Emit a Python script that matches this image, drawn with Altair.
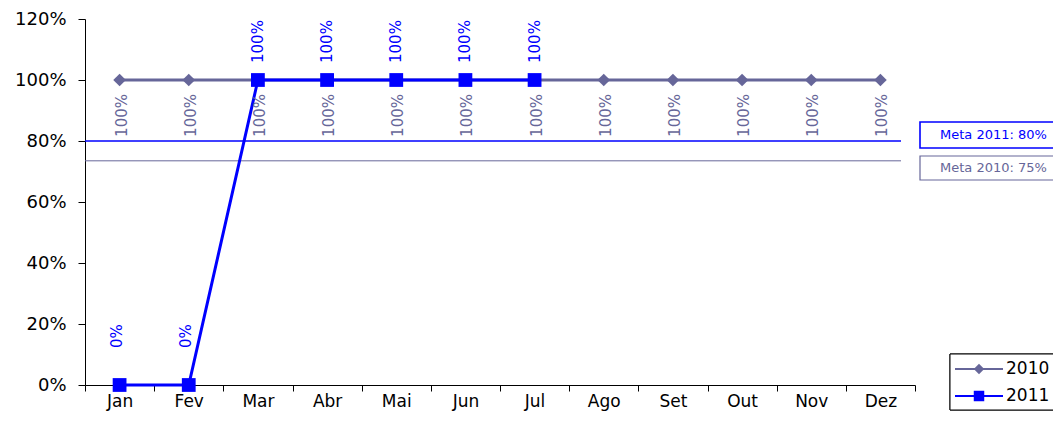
import altair as alt
import pandas as pd

# ---- data -------------------------------------------------------------
months = ["Jan", "Fev", "Mar", "Abr", "Mai", "Jun", "Jul", "Ago", "Set", "Out", "Nov", "Dez"]
series_names = ["2010", "2011"]
values_2010 = [1.00, 1.00, 1.00, 1.00, 1.00, 1.00, 1.00, 1.00, 1.00, 1.00, 1.00, 1.00]
values_2011 = [0.00, 0.00, 1.00, 1.00, 1.00, 1.00, 1.00]
meta_values = [0.80, 0.735]
meta_labels = ["Meta 2011: 80%", "Meta 2010: 75%"]
y_ticks = [0.0, 0.2, 0.4, 0.6, 0.8, 1.0, 1.2]

C2010 = "#666699"
C2011 = "#0000FF"
FONT = "DejaVu Sans"

df2010 = pd.DataFrame({"mes": months, "valor": values_2010})
df2011 = pd.DataFrame({"mes": months[:len(values_2011)], "valor": values_2011})

x_enc = alt.X(
    "mes:N",
    sort=months,
    scale=alt.Scale(type="band", domain=months, paddingInner=0, paddingOuter=0),
    axis=alt.Axis(
        title=None, labelAngle=0, tickBand="extent", tickSize=6, labelPadding=2,
        labelFontSize=17, labelColor="#000000", domainColor="#000000",
        tickColor="#000000", grid=False,
    ),
)
y_enc = alt.Y(
    "valor:Q",
    scale=alt.Scale(domain=[0, 1.2], nice=False),
    axis=alt.Axis(
        title=None, values=y_ticks, format=".0%", tickSize=7, labelPadding=12,
        labelFontSize=18, labelColor="#000000", domainColor="#000000",
        tickColor="#000000", grid=False,
    ),
)

base10 = alt.Chart(df2010).encode(x=x_enc, y=y_enc)
base11 = alt.Chart(df2011).encode(x=x_enc, y=y_enc)

line10 = base10.mark_line(color=C2010, strokeWidth=3)
pts10 = base10.mark_point(shape="diamond", filled=True, size=160, color=C2010, opacity=1)
lab10 = base10.mark_text(
    angle=270, align="right", baseline="middle", fontSize=15, color=C2010,
    yOffset=14, xOffset=2,
).encode(text=alt.Text("valor:Q", format=".0%"))

line11 = base11.mark_line(color=C2011, strokeWidth=3)
pts11 = base11.mark_point(shape="square", filled=True, size=190, color=C2011, opacity=1)
lab11_hi = base11.transform_filter("datum.valor > 0").mark_text(
    angle=270, align="left", baseline="middle", fontSize=15, color=C2011, yOffset=-17,
).encode(text=alt.Text("valor:Q", format=".0%"))
lab11_lo = base11.transform_filter("datum.valor <= 0").mark_text(
    angle=270, align="left", baseline="middle", fontSize=15, color=C2011,
    yOffset=-37, xOffset=-3,
).encode(text=alt.Text("valor:Q", format=".0%"))

# ---- goal lines ----------------------------------------------------------
meta11 = alt.Chart(pd.DataFrame({"valor": [meta_values[0]]})).mark_rule(
    color=C2011, strokeWidth=1.3
).encode(y=alt.Y("valor:Q"), x=alt.value(0), x2=alt.value(816))
meta10 = alt.Chart(pd.DataFrame({"valor": [meta_values[1]]})).mark_rule(
    color=C2010, strokeWidth=1
).encode(y=alt.Y("valor:Q"), x=alt.value(0), x2=alt.value(816))

# ---- goal boxes (annotations) ------------------------------------------
box11 = alt.Chart(pd.DataFrame({"t": [meta_labels[0]]})).mark_rect(
    fill="white", stroke=C2011, strokeWidth=1.6
).encode(x=alt.value(835), x2=alt.value(1000), y=alt.value(103), y2=alt.value(129))
txt11 = alt.Chart(pd.DataFrame({"t": [meta_labels[0]]})).mark_text(
    align="left", baseline="middle", fontSize=13, color=C2011
).encode(text="t:N", x=alt.value(855), y=alt.value(116))
box10 = alt.Chart(pd.DataFrame({"t": [meta_labels[1]]})).mark_rect(
    fill="white", stroke=C2010, strokeWidth=1.2
).encode(x=alt.value(835), x2=alt.value(1000), y=alt.value(137), y2=alt.value(161))
txt10 = alt.Chart(pd.DataFrame({"t": [meta_labels[1]]})).mark_text(
    align="left", baseline="middle", fontSize=13, color=C2010
).encode(text="t:N", x=alt.value(855), y=alt.value(149))

# ---- legend (drawn) -----------------------------------------------------
leg_box = alt.Chart(pd.DataFrame({"t": series_names})).mark_rect(
    fill="white", stroke="#000000", strokeWidth=1
).encode(x=alt.value(865), x2=alt.value(1000), y=alt.value(335), y2=alt.value(391))


def legend_entry(name, color, shape, ypix, lw):
    d = pd.DataFrame({"t": [name]})
    r = alt.Chart(d).mark_rule(color=color, strokeWidth=lw).encode(
        x=alt.value(870), x2=alt.value(918), y=alt.value(ypix))
    p = alt.Chart(d).mark_point(shape=shape, filled=True, size=110, color=color, opacity=1).encode(
        x=alt.value(894), y=alt.value(ypix))
    t = alt.Chart(d).mark_text(align="left", baseline="middle", fontSize=17, color="#000000").encode(
        text="t:N", x=alt.value(921), y=alt.value(ypix))
    return [r, p, t]


leg_layers = legend_entry(series_names[0], C2010, "diamond", 350, 2) + \
    legend_entry(series_names[1], C2011, "square", 377, 2)

chart = alt.layer(
    meta11, meta10, line10, line11, pts10, pts11, lab10, lab11_hi, lab11_lo,
    box11, txt11, box10, txt10, leg_box, *leg_layers,
).properties(
    width=830, height=366,
    padding={"left": 77, "top": 11, "right": 138, "bottom": 27},
    autosize=alt.AutoSizeParams(type="none"),
    background="white",
).configure(font=FONT).configure_view(stroke=None)

chart.save("out.html", embed_options={"renderer": "svg", "actions": False})
